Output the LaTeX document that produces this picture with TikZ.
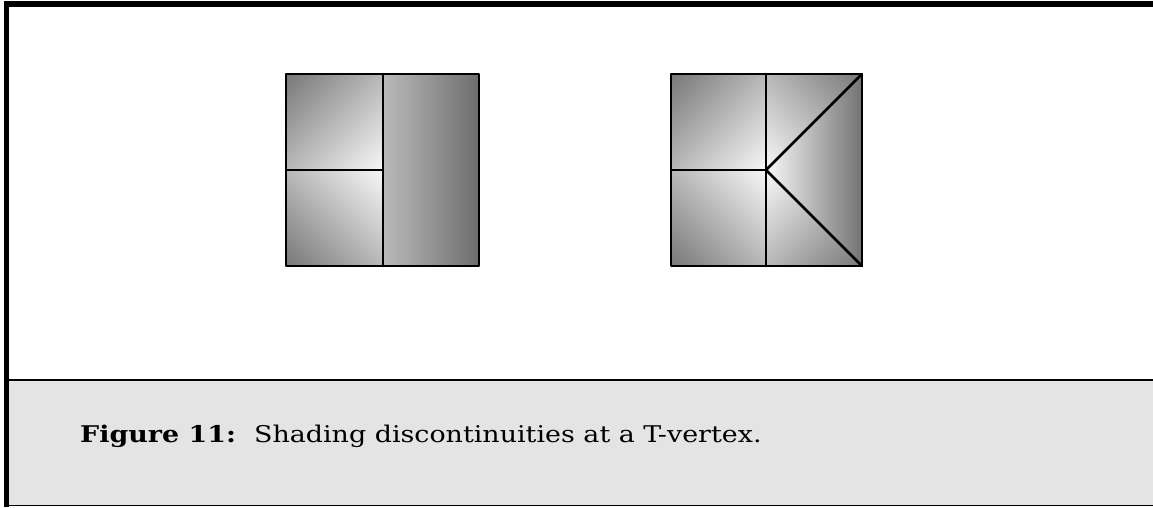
\documentclass[tikz,border=0pt]{standalone}
\usepackage{fontspec}
\usepackage{graphicx}
\setmainfont{DejaVu Serif}
\usetikzlibrary{shadings}
\pgfdeclarefunctionalshading{leftsq}{\pgfpoint{-50bp}{-50bp}}{\pgfpoint{50bp}{50bp}}{}{
exch dup 0 lt
{ neg exch abs add 50 div 0.50 mul 0.97 exch sub }
{ exch pop 25 div 0.30 mul 0.73 exch sub }
ifelse dup dup
}
\pgfdeclarefunctionalshading{rightsq}{\pgfpoint{-50bp}{-50bp}}{\pgfpoint{50bp}{50bp}}{}{
2 copy abs exch abs
2 copy lt
4 index 0 gt and
{ exch pop exch pop exch pop 25 div 0.52 mul 0.97 exch sub }
{ add exch pop exch pop 50 div 0.5 mul 0.97 exch sub }
ifelse dup dup
}
\definecolor{capgray}{HTML}{E4E4E4}
\tikzset{
  edge/.style={line width=2.6pt, line cap=round, line join=round},
  frame/.style={line width=5.5pt},
  captext/.style={font=\fontsize{23}{27}\selectfont, anchor=base west, inner sep=0pt}
}
\begin{document}
\begin{tikzpicture}[x=1pt, y=-1pt]
\useasboundingbox (0,0) rectangle (1153,507);
% caption band
\fill[capgray] (9,380.5) rectangle (1153,505.5);
\coordinate (sepL) at (9,380);
\coordinate (sepR) at (1153,380);
\draw[line width=1.3pt] (sepL) -- (sepR);
\coordinate (botL) at (9,505.8);
\coordinate (botR) at (1153,505.8);
\draw[line width=1pt] (botL) -- (botR);
% frame
\coordinate (fTR) at (1153,4);
\coordinate (fBL) at (6.5,507);
\draw[frame] (fBL) -- (6.5,1.25) (4,4) -- (fTR);
% left square
\coordinate (a1) at (286,74);
\coordinate (a2) at (479,266);
\coordinate (aT) at (383,74);
\coordinate (aB) at (383,266);
\coordinate (aV) at (383,170);
\coordinate (aL) at (286,170);
\shade[shading=leftsq] (a1) rectangle (a2);
\draw[edge] (a1) rectangle (a2);
\draw[edge] (aT) -- (aB);
\draw[edge] (aL) -- (aV);
% right square
\coordinate (b1) at (671,74);
\coordinate (b2) at (862,266);
\coordinate (bT) at (766,74);
\coordinate (bB) at (766,266);
\coordinate (bV) at (766,170);
\coordinate (bL) at (671,170);
\coordinate (bTR) at (862,74);
\coordinate (bBR) at (862,266);
\shade[shading=rightsq] (b1) rectangle (b2);
\draw[edge] (b1) rectangle (b2);
\draw[edge] (bT) -- (bB);
\draw[edge] (bL) -- (bV);
\draw[edge] (bTR) -- (bV) -- (bBR);
% caption
\node[captext] (cap) at (80,442) {\scalebox{1.17}[1]{\textbf{Figure 11:}\hspace{0.25em} Shading discontinuities at a T-vertex.}};
\end{tikzpicture}
\end{document}
